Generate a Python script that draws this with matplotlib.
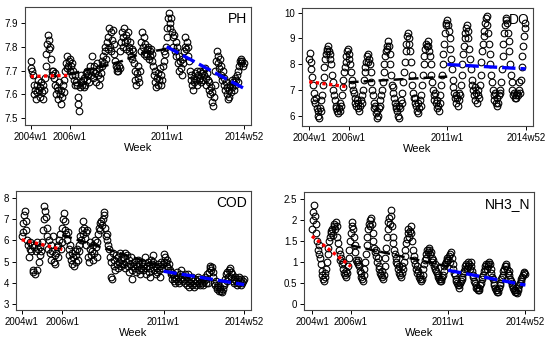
import numpy as np
import matplotlib
matplotlib.use("Agg")
import matplotlib.pyplot as plt

plt.rcParams['font.family'] = ['Liberation Sans', 'DejaVu Sans']

# week index (2004w1 = 0), one reading every 2 weeks
weeks = np.arange(0, 572, 2)
tick_weeks = [0, 104, 364, 571]
tick_labels = ["2004w1", "2006w1", "2011w1", "2014w52"]

ph = [
    7.71, 7.74, 7.70, 7.68, 7.64, 7.60, 7.62, 7.58, 7.64, 7.61, 7.66, 7.62, 7.59, 7.63, 7.65, 7.61, 7.64, 7.58, 7.62, 7.67, 7.72, 7.77, 7.81, 7.85, 7.83, 7.79,
    7.80, 7.75, 7.70, 7.68, 7.70, 7.67, 7.69, 7.64, 7.60, 7.63, 7.58, 7.62, 7.65, 7.60, 7.56, 7.62, 7.59, 7.64, 7.61, 7.66, 7.70, 7.73, 7.71, 7.76, 7.72, 7.74,
    7.70, 7.75, 7.72, 7.68, 7.73, 7.70, 7.66, 7.64, 7.68, 7.65, 7.64, 7.59, 7.56, 7.53, 7.63, 7.65, 7.68, 7.64, 7.66, 7.63, 7.67, 7.64, 7.69, 7.66, 7.70, 7.68,
    7.65, 7.70, 7.72, 7.68, 7.76, 7.70, 7.67, 7.72, 7.69, 7.65, 7.70, 7.73, 7.68, 7.71, 7.64, 7.67, 7.69, 7.74, 7.72, 7.76, 7.73, 7.78, 7.80, 7.75, 7.82, 7.79,
    7.84, 7.88, 7.80, 7.86, 7.78, 7.83, 7.87, 7.81, 7.77, 7.74, 7.72, 7.70, 7.71, 7.70, 7.72, 7.71, 7.78, 7.82, 7.86, 7.80, 7.84, 7.88, 7.82, 7.85, 7.79, 7.83,
    7.86, 7.80, 7.78, 7.82, 7.76, 7.79, 7.75, 7.78, 7.73, 7.70, 7.66, 7.64, 7.69, 7.72, 7.67, 7.65, 7.70, 7.78, 7.82, 7.86, 7.80, 7.84, 7.77, 7.81, 7.76, 7.79,
    7.77, 7.80, 7.75, 7.78, 7.76, 7.79, 7.74, 7.77, 7.72, 7.68, 7.65, 7.70, 7.63, 7.67, 7.64, 7.69, 7.66, 7.71, 7.64, 7.68, 7.66, 7.72, 7.74, 7.78, 7.77, 7.80,
    7.84, 7.88, 7.92, 7.94, 7.90, 7.88, 7.92, 7.86, 7.84, 7.80, 7.85, 7.78, 7.82, 7.76, 7.80, 7.73, 7.76, 7.70, 7.74, 7.71, 7.75, 7.68, 7.73, 7.78, 7.80, 7.84,
    7.79, 7.82, 7.76, 7.80, 7.74, 7.70, 7.66, 7.68, 7.64, 7.62, 7.67, 7.65, 7.69, 7.66, 7.70, 7.64, 7.68, 7.66, 7.70, 7.67, 7.65, 7.69, 7.66, 7.70, 7.68, 7.71,
    7.67, 7.64, 7.69, 7.66, 7.62, 7.65, 7.60, 7.63, 7.57, 7.61, 7.55, 7.59, 7.64, 7.70, 7.74, 7.78, 7.73, 7.76, 7.71, 7.75, 7.68, 7.72, 7.66, 7.70, 7.64, 7.67,
    7.62, 7.65, 7.60, 7.63, 7.58, 7.62, 7.59, 7.64, 7.61, 7.66, 7.63, 7.65, 7.62, 7.67, 7.64, 7.66, 7.68, 7.65, 7.70, 7.72, 7.74, 7.73, 7.75, 7.74, 7.72, 7.73,
]

do = [
    8.2, 8.45, 8.1, 7.8, 7.5, 7.2, 6.9, 6.6, 6.5, 6.7, 6.3, 6.2, 6.0, 5.9, 6.3, 6.6, 6.2, 6.8, 7.2, 7.5, 7.9, 8.2, 8.4, 8.6, 8.5, 8.7,
    8.5, 8.4, 8.2, 8.0, 7.6, 7.3, 7.0, 6.8, 6.6, 6.4, 6.3, 6.2, 6.1, 6.3, 6.2, 6.5, 6.4, 6.8, 7.1, 7.4, 7.7, 7.9, 8.1, 8.3, 8.5, 8.6,
    8.4, 8.2, 8.0, 7.7, 7.4, 7.2, 7.0, 6.9, 6.7, 6.5, 6.4, 6.6, 6.3, 6.5, 6.2, 6.4, 6.6, 6.5, 6.8, 7.0, 7.4, 7.7, 7.9, 8.1, 8.3, 8.1,
    8.4, 8.2, 8.0, 7.7, 7.3, 7.0, 6.8, 6.5, 6.3, 6.4, 6.1, 5.9, 6.2, 6.0, 6.3, 6.6, 6.4, 6.8, 7.0, 7.3, 7.7, 8.0, 8.3, 8.5, 8.7, 8.6,
    8.9, 8.7, 8.4, 8.0, 7.6, 7.2, 6.9, 7.1, 6.7, 6.5, 6.3, 6.4, 6.2, 6.0, 6.4, 5.9, 6.3, 6.6, 6.5, 6.9, 7.3, 7.7, 8.1, 8.5, 8.8, 9.1,
    9.2, 9.0, 8.8, 8.5, 8.1, 7.6, 7.2, 6.9, 6.7, 6.5, 6.7, 6.4, 6.2, 6.5, 6.1, 6.3, 6.6, 6.4, 6.8, 7.2, 7.6, 8.0, 8.3, 8.6, 8.8, 8.7,
    8.9, 8.7, 8.5, 8.3, 8.0, 7.6, 7.3, 7.0, 6.8, 6.6, 6.9, 6.5, 6.3, 6.6, 6.4, 6.2, 6.5, 6.8, 7.2, 7.6, 8.0, 8.4, 8.8, 9.2, 9.5, 9.6,
    9.7, 9.5, 9.3, 9.0, 8.6, 8.2, 7.8, 7.4, 7.1, 6.9, 6.7, 6.8, 6.5, 6.7, 6.4, 6.6, 6.9, 6.8, 7.2, 7.6, 8.0, 8.4, 8.7, 9.0, 9.2, 9.4,
    9.5, 9.3, 9.0, 8.6, 8.2, 7.8, 7.4, 7.2, 7.0, 6.8, 7.1, 6.6, 6.9, 6.5, 6.8, 7.0, 6.7, 7.2, 7.6, 8.1, 8.5, 8.8, 9.1, 9.3, 9.6, 9.8,
    9.85, 9.5, 9.2, 8.8, 8.4, 8.0, 7.6, 7.3, 7.0, 6.8, 6.6, 6.9, 6.5, 6.4, 6.7, 6.5, 6.8, 7.0, 6.9, 7.3, 7.8, 8.3, 8.8, 9.2, 9.5, 9.7,
    9.8, 9.6, 9.2, 8.9, 8.5, 8.0, 7.6, 7.3, 7.0, 6.8, 6.9, 6.7, 6.8, 6.7, 6.9, 6.8, 7.0, 7.3, 6.9, 7.4, 7.9, 8.3, 8.7, 9.1, 9.4, 9.6,
]

cod = [
    6.2, 6.4, 6.8, 7.2, 7.4, 6.9, 6.5, 6.0, 5.8, 5.2, 5.6, 5.9, 5.5, 5.8, 4.6, 4.5, 5.7, 4.4, 5.5, 4.6, 5.9, 5.6, 5.0, 5.7, 5.3, 5.5,
    5.9, 6.5, 7.0, 7.6, 7.4, 7.1, 6.6, 6.2, 5.6, 6.0, 5.4, 5.8, 5.1, 5.5, 6.2, 5.0, 5.3, 4.9, 5.4, 5.7, 5.2, 5.8, 6.0, 6.3, 5.6, 5.9,
    6.6, 7.0, 7.3, 6.9, 6.5, 6.3, 6.0, 6.4, 5.6, 5.3, 5.8, 5.1, 5.4, 4.9, 5.2, 4.8, 5.5, 5.0, 5.3, 5.6, 5.1, 5.8, 5.5, 6.2, 6.0, 6.5,
    6.3, 6.9, 6.6, 6.1, 5.8, 6.4, 6.5, 5.2, 5.0, 5.6, 5.9, 5.3, 5.5, 5.1, 5.8, 5.4, 6.0, 5.7, 5.2, 5.9, 6.3, 6.6, 6.8, 6.5, 6.9, 6.7,
    7.0, 7.2, 7.35, 6.6, 6.2, 6.0, 6.3, 5.8, 5.6, 5.2, 4.3, 5.0, 4.2, 5.4, 4.8, 5.1, 4.6, 5.3, 4.9, 5.2, 4.7, 5.0, 5.4, 4.8, 5.1, 4.9,
    5.2, 4.9, 5.4, 4.7, 5.0, 5.3, 4.8, 5.1, 4.5, 4.9, 5.2, 4.6, 4.2, 4.8, 5.0, 4.7, 4.9, 4.5, 4.8, 5.1, 4.6, 4.9, 4.4, 4.7, 5.0, 4.8,
    4.6, 4.9, 5.2, 4.7, 4.4, 4.8, 5.0, 4.5, 4.3, 4.7, 5.1, 4.9, 5.3, 5.0, 4.6, 4.8, 4.4, 4.7, 4.5, 4.9, 4.6, 4.3, 4.8, 5.0, 4.7, 4.9,
    5.0, 5.35, 5.2, 5.0, 4.8, 5.1, 4.7, 4.9, 4.6, 4.4, 4.5, 4.2, 4.4, 4.1, 4.3, 4.0, 4.2, 4.5, 4.1, 4.3, 4.0, 4.4, 4.2, 4.6, 4.3, 4.1,
    4.2, 4.4, 4.0, 4.3, 3.9, 4.1, 4.4, 3.8, 4.0, 4.2, 3.9, 4.3, 4.1, 3.8, 4.0, 4.2, 3.9, 4.1, 4.3, 4.0, 4.2, 3.9, 4.1, 4.0, 4.2, 3.9,
    4.1, 4.3, 4.0, 4.2, 4.4, 4.0, 4.5, 4.7, 4.8, 4.6, 4.75, 4.5, 4.3, 4.0, 3.9, 4.1, 3.8, 3.7, 3.9, 3.6, 3.7, 3.8, 3.6, 3.55, 3.7, 3.9,
    4.0, 4.2, 4.4, 4.1, 4.5, 4.3, 4.6, 4.7, 4.5, 4.3, 4.4, 4.1, 4.2, 4.0, 4.3, 4.1, 3.9, 4.2, 4.0, 4.3, 4.1, 3.9, 4.2, 4.0, 4.1, 4.2,
]

nh3 = [
    1.8, 2.0, 2.2, 2.35, 2.1, 1.9, 1.7, 1.5, 1.3, 1.2, 1.4, 1.1, 0.95, 0.8, 0.7, 0.6, 0.55, 0.65, 0.75, 0.85, 1.0, 1.2, 1.35, 1.5, 1.6, 1.7,
    1.75, 1.8, 1.65, 1.85, 1.9, 1.8, 1.95, 1.85, 1.6, 1.45, 1.3, 1.2, 1.05, 1.1, 0.95, 0.85, 1.0, 0.75, 0.7, 0.8, 0.65, 0.75, 0.9, 1.1, 1.3, 1.5,
    1.7, 1.85, 1.95, 1.8, 1.6, 1.4, 1.25, 1.05, 1.0, 0.95, 1.05, 0.9, 0.8, 0.75, 0.65, 0.6, 0.55, 0.7, 0.85, 1.0, 1.2, 1.4, 1.6, 1.8, 1.9, 2.0,
    1.85, 2.05, 1.9, 1.7, 1.5, 1.35, 1.25, 1.3, 1.15, 1.0, 1.1, 0.9, 0.85, 0.75, 0.7, 0.8, 0.65, 0.6, 0.7, 0.9, 1.1, 1.35, 1.6, 1.8, 1.95, 2.05,
    1.9, 2.25, 2.1, 1.85, 1.6, 1.45, 1.3, 1.2, 1.1, 1.0, 0.95, 0.85, 0.9, 0.75, 0.7, 0.65, 0.75, 0.9, 0.85, 1.0, 1.15, 1.3, 1.45, 1.55, 1.7, 1.8,
    1.6, 1.75, 1.85, 1.7, 1.5, 1.3, 1.15, 1.05, 0.95, 0.85, 0.9, 0.75, 0.8, 0.65, 0.6, 0.7, 0.55, 0.6, 0.7, 0.85, 0.95, 1.05, 1.1, 1.2, 1.3, 1.25,
    1.3, 1.35, 1.2, 1.25, 1.1, 1.0, 1.05, 0.9, 0.95, 0.85, 0.8, 0.75, 0.7, 0.65, 0.6, 0.55, 0.6, 0.55, 0.65, 0.7, 0.8, 0.9, 0.95, 1.0, 1.05, 1.1,
    1.05, 1.15, 1.0, 1.2, 1.25, 1.1, 0.95, 0.85, 0.75, 0.7, 0.6, 0.55, 0.5, 0.45, 0.4, 0.45, 0.5, 0.55, 0.6, 0.65, 0.75, 0.8, 0.85, 0.9, 0.95, 0.85,
    0.9, 1.0, 0.95, 0.85, 1.0, 0.9, 0.8, 0.7, 0.65, 0.55, 0.5, 0.45, 0.4, 0.38, 0.35, 0.4, 0.35, 0.45, 0.5, 0.6, 0.65, 0.7, 0.8, 0.85, 0.9, 0.95,
    0.85, 0.95, 0.9, 1.0, 0.95, 0.85, 0.75, 0.65, 0.6, 0.5, 0.45, 0.4, 0.35, 0.3, 0.35, 0.3, 0.4, 0.45, 0.5, 0.6, 0.65, 0.7, 0.8, 0.85, 0.9, 0.95,
    0.9, 0.85, 0.75, 0.8, 0.7, 0.6, 0.55, 0.5, 0.45, 0.4, 0.35, 0.3, 0.35, 0.3, 0.28, 0.35, 0.4, 0.45, 0.5, 0.55, 0.6, 0.65, 0.7, 0.75, 0.78, 0.72,
]

# fitted trend segments: 2004-2005 (red), 2006-2010 (black), 2011-2014 (blue)
early_weeks = [0, 104]
late_weeks = [364, 571]
ph_mid_weeks = [104, 160, 200, 245, 300, 364]
mid_weeks = [104, 364]

ph_early, ph_mid, ph_late = [7.675, 7.68], [7.685, 7.705, 7.72, 7.74, 7.775, 7.79], [7.80, 7.625]
do_early, do_mid, do_late = [7.32, 7.12], [7.30, 7.52], [7.99, 7.82]
cod_early, cod_mid, cod_late = [6.03, 5.57], [6.25, 4.75], [4.55, 3.92]
nh3_early, nh3_mid, nh3_late = [1.62, 0.90], [1.40, 0.90], [0.81, 0.46]

panels = [
    ("PH", ph, ph_mid_weeks, ph_early, ph_mid, ph_late,
     [0.0455, 0.638, 0.4105, 0.342], (-15, 589), (7.472, 7.967),
     [7.5, 7.6, 7.7, 7.8, 7.9], ["7.5", "7.6", "7.7", "7.8", "7.9"]),
    ("DO", do, mid_weeks, do_early, do_mid, do_late,
     [0.549, 0.635, 0.42, 0.342], (-19, 590), (5.61, 10.18),
     [6, 7, 8, 9, 10], ["6", "7", "8", "9", "10"]),
    ("COD", cod, mid_weeks, cod_early, cod_mid, cod_late,
     [0.029, 0.101, 0.427, 0.346], (-15, 588), (2.72, 8.33),
     [3, 4, 5, 6, 7, 8], ["3", "4", "5", "6", "7", "8"]),
    ("NH3_N", nh3, mid_weeks, nh3_early, nh3_mid, nh3_late,
     [0.553, 0.101, 0.418, 0.343], (-21, 594), (-0.135, 2.67),
     [0, 0.5, 1, 1.5, 2, 2.5], ["0", "0.5", "1", "1.5", "2", "2.5"]),
]

fig = plt.figure(figsize=(5.5, 3.45), dpi=100)

for name, vals, mw, early, mid, late, pos, xl, yl, yt, ytl in panels:
    ax = fig.add_axes(pos)
    ax.plot(weeks, vals, 'o', mfc='none', mec='black', ms=4.8, mew=0.8)
    ax.plot(early_weeks, early, color='red', lw=2.4, ls=(0, (1, 1)))
    ax.plot(mw, mid, color='black', lw=1.8, ls=(0, (4, 2)))
    ax.plot(late_weeks, late, color='blue', lw=2.4, ls=(0, (4, 1.5)))
    ax.set_xlim(*xl)
    ax.set_ylim(*yl)
    ax.set_xticks(tick_weeks)
    ax.set_xticklabels(tick_labels)
    ax.set_yticks(yt)
    ax.set_yticklabels(ytl)
    ax.tick_params(labelsize=7, length=3, width=0.7, pad=2)
    ax.set_xlabel("Week", fontsize=8, labelpad=1)
    for s in ax.spines.values():
        s.set_color('#444444')
        s.set_linewidth(0.8)
    ax.text(0.985, 0.96, name, transform=ax.transAxes, ha='right', va='top', fontsize=10)

fig.savefig("out.png", dpi=100)
